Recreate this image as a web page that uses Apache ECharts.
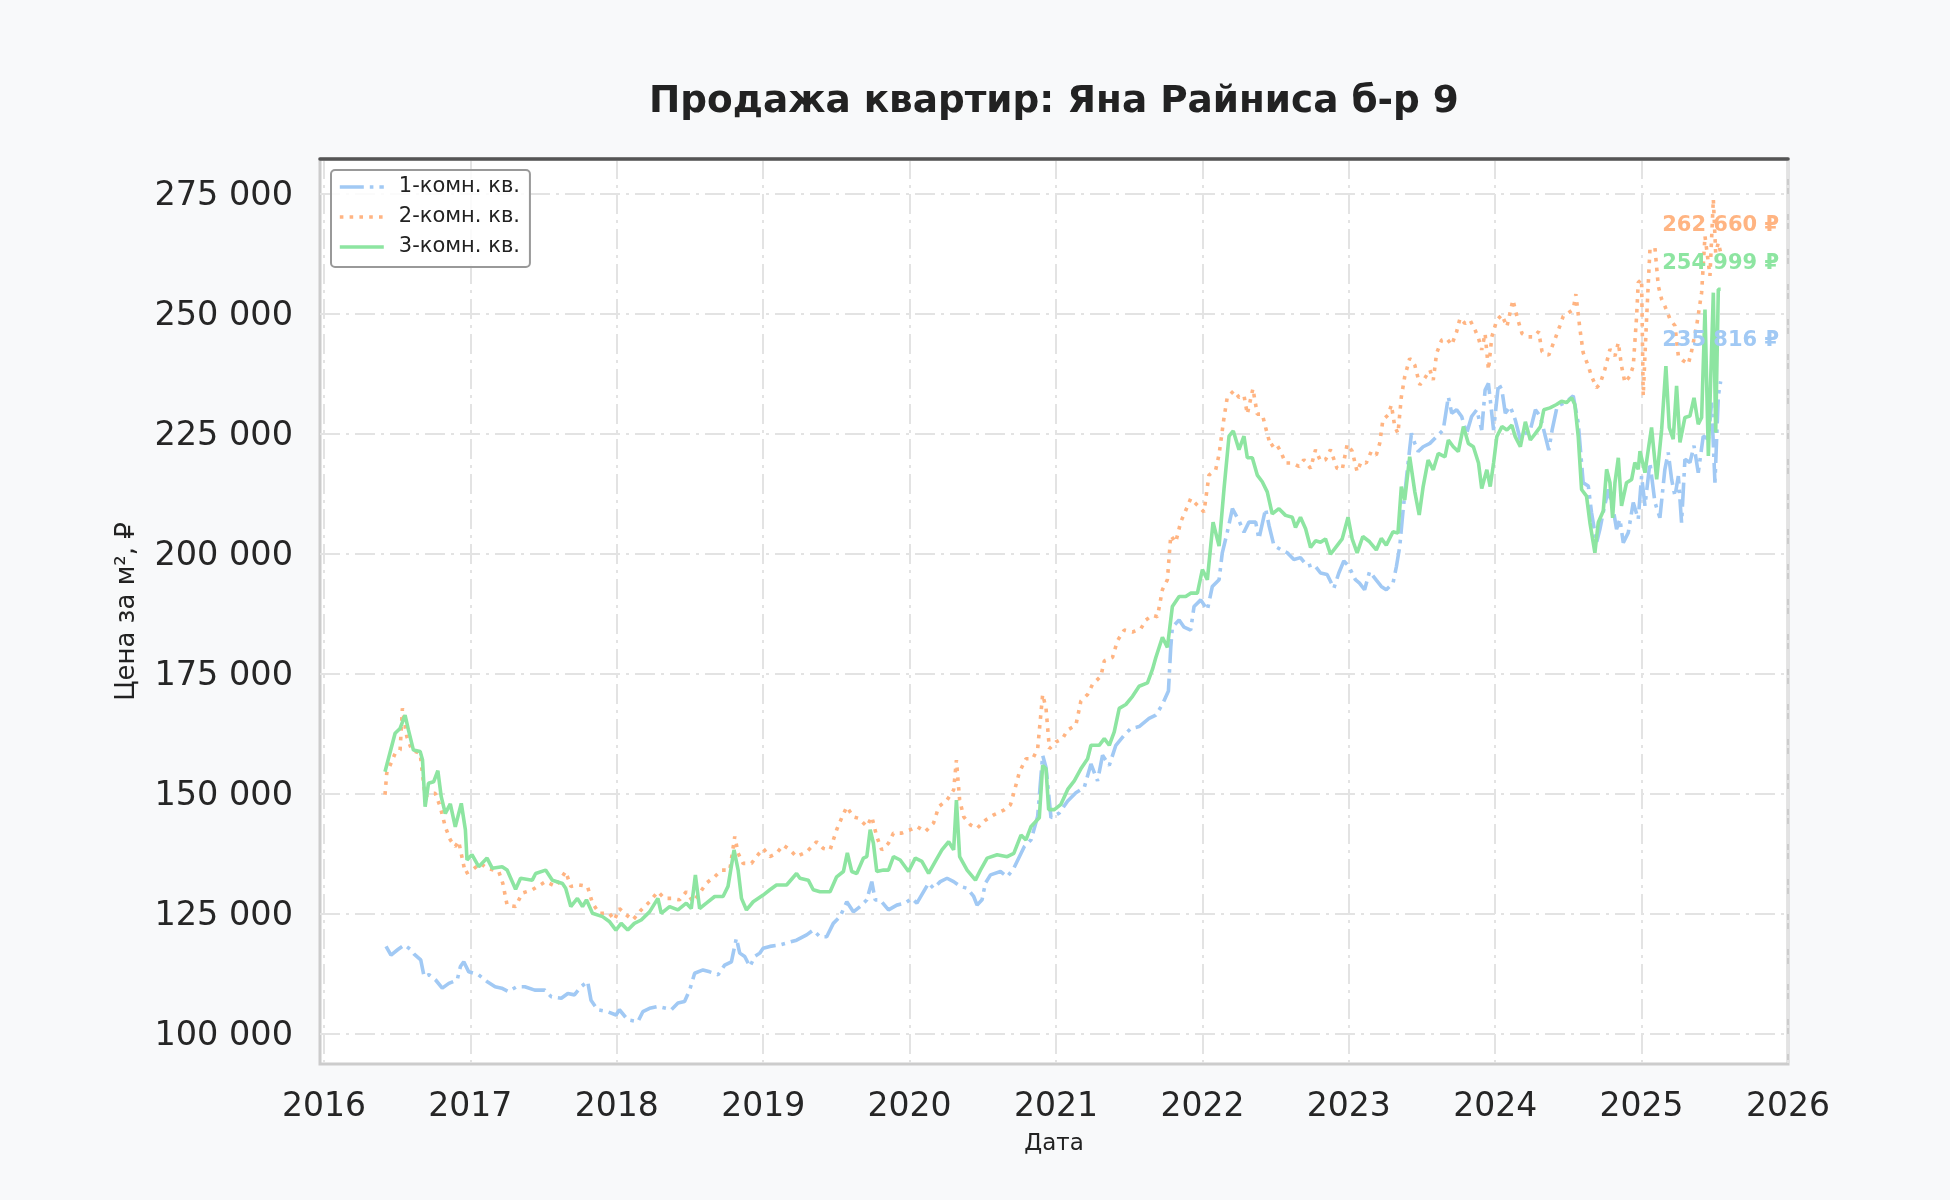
<!DOCTYPE html>
<html>
<head>
<meta charset="utf-8">
<title>Продажа квартир: Яна Райниса б-р 9</title>
<script src="https://cdn.jsdelivr.net/npm/echarts@6/dist/echarts.min.js"></script>
<style>
    html, body { margin: 0; padding: 0; background: #f8f9fa; }
    #chart { width: 1950px; height: 1200px; }
</style>
</head>
<body>
<div id="chart"></div>
<script>
// даты в долях года, цены за м² в рублях
const room1Years = [
    2016.424, 2016.458, 2016.503, 2016.549, 2016.594, 2016.616, 2016.661, 2016.684, 2016.718, 2016.763,
    2016.808, 2016.853, 2016.910, 2016.932, 2016.955, 2016.989, 2017.056, 2017.113, 2017.169, 2017.214,
    2017.260, 2017.316, 2017.372, 2017.440, 2017.508, 2017.553, 2017.621, 2017.666, 2017.711, 2017.756,
    2017.801, 2017.824, 2017.869, 2017.938, 2017.995, 2018.018, 2018.075, 2018.144, 2018.178, 2018.224,
    2018.281, 2018.338, 2018.372, 2018.418, 2018.463, 2018.498, 2018.532, 2018.589, 2018.635, 2018.692,
    2018.737, 2018.783, 2018.817, 2018.840, 2018.874, 2018.909, 2018.943, 2018.977, 2019.000, 2019.046,
    2019.114, 2019.160, 2019.228, 2019.297, 2019.342, 2019.388, 2019.434, 2019.479, 2019.525, 2019.571,
    2019.616, 2019.662, 2019.708, 2019.742, 2019.765, 2019.799, 2019.856, 2019.913, 2019.970, 2020.016,
    2020.050, 2020.130, 2020.164, 2020.210, 2020.256, 2020.301, 2020.347, 2020.393, 2020.438, 2020.461,
    2020.495, 2020.518, 2020.553, 2020.621, 2020.667, 2020.712, 2020.784, 2020.830, 2020.875, 2020.909,
    2020.932, 2020.966, 2021.023, 2021.080, 2021.136, 2021.193, 2021.239, 2021.284, 2021.318, 2021.364,
    2021.409, 2021.466, 2021.511, 2021.568, 2021.636, 2021.682, 2021.727, 2021.768, 2021.784, 2021.795,
    2021.841, 2021.875, 2021.920, 2021.943, 2021.989, 2022.034, 2022.068, 2022.114, 2022.136, 2022.170,
    2022.205, 2022.250, 2022.284, 2022.318, 2022.364, 2022.386, 2022.432, 2022.455, 2022.489, 2022.534,
    2022.580, 2022.625, 2022.670, 2022.716, 2022.761, 2022.807, 2022.852, 2022.898, 2022.932, 2022.966,
    2023.000, 2023.045, 2023.073, 2023.108, 2023.142, 2023.188, 2023.222, 2023.256, 2023.302, 2023.325,
    2023.348, 2023.371, 2023.405, 2023.428, 2023.451, 2023.474, 2023.508, 2023.554, 2023.600, 2023.645,
    2023.680, 2023.703, 2023.737, 2023.771, 2023.805, 2023.839, 2023.874, 2023.908, 2023.931, 2023.954,
    2023.989, 2024.023, 2024.046, 2024.069, 2024.103, 2024.137, 2024.172, 2024.206, 2024.240, 2024.275,
    2024.309, 2024.343, 2024.366, 2024.389, 2024.423, 2024.469, 2024.503, 2024.533, 2024.567, 2024.601,
    2024.636, 2024.658, 2024.692, 2024.715, 2024.738, 2024.772, 2024.806, 2024.829, 2024.852, 2024.875,
    2024.909, 2024.943, 2024.977, 2025.000, 2025.023, 2025.057, 2025.091, 2025.125, 2025.159, 2025.182,
    2025.205, 2025.228, 2025.251, 2025.273, 2025.296, 2025.330, 2025.358, 2025.387, 2025.421, 2025.456,
    2025.478, 2025.501, 2025.524, 2025.540
];
const room1Prices = [
    118100, 116300, 117400, 118400, 117400, 116500, 115300, 111800, 112200, 111100,
    109400, 110400, 111100, 113900, 114900, 112800, 112200, 110800, 109700, 109400,
    108700, 109700, 109700, 109000, 109000, 107600, 107300, 108300, 108000, 109700,
    110800, 106900, 104900, 104500, 103800, 104900, 102800, 102400, 104500, 105200,
    105600, 105200, 104900, 106300, 106600, 109000, 112500, 113200, 112800, 112200,
    114200, 114900, 119800, 116700, 116000, 113900, 116000, 116700, 117700, 118100,
    118400, 118800, 119400, 120500, 121500, 120100, 120100, 122900, 124300, 127400,
    125300, 126400, 127800, 131600, 127800, 127800, 125700, 126700, 127100, 128100,
    127100, 131300, 130200, 131600, 132300, 131600, 130600, 130200, 128500, 126700,
    127800, 131300, 133000, 133700, 132600, 134400, 138900, 140300, 145200, 157900,
    155400, 144900, 145900, 148400, 150100, 151200, 156100, 152600, 157900, 155800,
    160000, 162100, 163500, 163900, 165600, 166300, 168500, 171300, 180400, 184600,
    186100, 184600, 184000, 188900, 190300, 188200, 193100, 194500, 200100, 204400,
    209300, 206800, 204400, 206500, 206500, 203000, 209300, 205800, 201600, 200800,
    200100, 198700, 199100, 197300, 197700, 195900, 195600, 192700, 195900, 198400,
    197300, 194500, 193800, 192400, 196200, 194400, 193100, 192400, 193800, 197200,
    201400, 209000, 218800, 225000, 222900, 221200, 222200, 222900, 224300, 225700,
    232600, 229200, 229900, 228500, 225000, 228500, 229900, 225700, 234000, 235400,
    225700, 235400, 234000, 229200, 230600, 227800, 223600, 225000, 225700, 229900,
    228500, 224300, 221500, 225700, 230600, 231300, 232000, 232800, 227200, 214700,
    214000, 208500, 202200, 205000, 208500, 213300, 209200, 205000, 207100, 202200,
    204300, 210600, 207100, 216100, 209900, 218900, 210600, 207400, 217500, 221000,
    215400, 211900, 216100, 206400, 219600, 218900, 222400, 216800, 224400, 223800,
    231400, 214700, 232800, 235816
];

const room2Years = [
    2016.417, 2016.429, 2016.486, 2016.520, 2016.536, 2016.566, 2016.600, 2016.657, 2016.691, 2016.726,
    2016.760, 2016.794, 2016.829, 2016.863, 2016.897, 2016.920, 2016.966, 2017.011, 2017.069, 2017.114,
    2017.194, 2017.222, 2017.251, 2017.309, 2017.354, 2017.423, 2017.514, 2017.583, 2017.651, 2017.686,
    2017.743, 2017.800, 2017.834, 2017.880, 2017.949, 2017.984, 2018.018, 2018.064, 2018.110, 2018.167,
    2018.224, 2018.281, 2018.326, 2018.372, 2018.429, 2018.475, 2018.521, 2018.566, 2018.612, 2018.669,
    2018.715, 2018.772, 2018.806, 2018.829, 2018.863, 2018.920, 2018.954, 2019.000, 2019.046, 2019.091,
    2019.137, 2019.183, 2019.228, 2019.297, 2019.365, 2019.411, 2019.457, 2019.502, 2019.525, 2019.571,
    2019.616, 2019.651, 2019.708, 2019.742, 2019.776, 2019.810, 2019.856, 2019.890, 2019.947, 2020.005,
    2020.050, 2020.107, 2020.164, 2020.199, 2020.256, 2020.301, 2020.320, 2020.342, 2020.370, 2020.416,
    2020.461, 2020.518, 2020.575, 2020.644, 2020.689, 2020.716, 2020.750, 2020.795, 2020.841, 2020.875,
    2020.909, 2020.932, 2020.955, 2021.000, 2021.045, 2021.080, 2021.136, 2021.170, 2021.216, 2021.250,
    2021.307, 2021.330, 2021.386, 2021.420, 2021.466, 2021.523, 2021.580, 2021.614, 2021.659, 2021.693,
    2021.727, 2021.761, 2021.784, 2021.818, 2021.852, 2021.886, 2021.920, 2021.966, 2022.011, 2022.045,
    2022.091, 2022.114, 2022.148, 2022.170, 2022.216, 2022.250, 2022.284, 2022.307, 2022.345, 2022.375,
    2022.409, 2022.432, 2022.466, 2022.500, 2022.534, 2022.568, 2022.614, 2022.659, 2022.693, 2022.739,
    2022.773, 2022.807, 2022.841, 2022.875, 2022.920, 2022.955, 2022.989, 2023.023, 2023.057, 2023.085,
    2023.119, 2023.153, 2023.188, 2023.211, 2023.233, 2023.268, 2023.291, 2023.314, 2023.336, 2023.359,
    2023.382, 2023.416, 2023.451, 2023.485, 2023.519, 2023.554, 2023.577, 2023.600, 2023.634, 2023.668,
    2023.703, 2023.737, 2023.760, 2023.794, 2023.828, 2023.863, 2023.886, 2023.908, 2023.931, 2023.954,
    2023.977, 2024.011, 2024.046, 2024.080, 2024.121, 2024.149, 2024.183, 2024.217, 2024.263, 2024.297,
    2024.320, 2024.366, 2024.408, 2024.442, 2024.465, 2024.499, 2024.533, 2024.551, 2024.579, 2024.601,
    2024.636, 2024.658, 2024.692, 2024.715, 2024.749, 2024.784, 2024.818, 2024.841, 2024.863, 2024.886,
    2024.920, 2024.943, 2024.966, 2024.977, 2025.000, 2025.011, 2025.034, 2025.057, 2025.091, 2025.114,
    2025.137, 2025.159, 2025.194, 2025.228, 2025.251, 2025.285, 2025.319, 2025.342, 2025.376, 2025.410,
    2025.433, 2025.467, 2025.490, 2025.506, 2025.524, 2025.540
];
const room2Prices = [
    149700, 154200, 158300, 159000, 167700, 161800, 159000, 158300, 149300, 150000,
    150000, 147200, 143000, 140300, 138900, 140000, 133300, 134000, 135400, 134400,
    133700, 131200, 126700, 126400, 129200, 129900, 131600, 130600, 133700, 130600,
    130900, 130600, 127100, 125000, 125000, 123600, 126000, 124700, 123600, 125700,
    127400, 129500, 128100, 128100, 127800, 129500, 127400, 129200, 131300, 132600,
    134000, 134000, 141000, 137500, 135400, 135400, 136800, 138500, 136800, 137500,
    139200, 138200, 136800, 137800, 139900, 138500, 138200, 142400, 144100, 147200,
    145100, 144800, 143100, 145100, 141000, 138200, 139600, 141700, 141700, 142400,
    143100, 142000, 143800, 147200, 148600, 150700, 156900, 148600, 145100, 143400,
    142700, 144400, 145500, 146500, 147600, 150500, 154400, 157200, 157200, 159300,
    170600, 167700, 159300, 160700, 161400, 163200, 164200, 169200, 170600, 172700,
    174400, 177600, 178300, 181800, 184000, 183600, 184300, 186100, 187100, 186800,
    192400, 194500, 203700, 202300, 206500, 208900, 211400, 210000, 208600, 216300,
    217400, 220600, 228300, 232500, 233900, 232500, 232900, 229000, 234300, 229000,
    229000, 226200, 222300, 223000, 221300, 218800, 218800, 218100, 219500, 217700,
    221600, 219200, 219500, 221600, 217700, 217400, 222700, 221300, 217000, 219100,
    218800, 221200, 220500, 222900, 227800, 228800, 230900, 226400, 225000, 232600,
    236800, 240600, 239200, 235100, 236500, 238200, 236100, 241700, 244400, 244800,
    243400, 246200, 249000, 247900, 248600, 246500, 244800, 242400, 245800, 238200,
    245100, 248600, 249700, 247200, 252800, 249300, 245800, 245100, 245100, 246200,
    242000, 241300, 244600, 247400, 249400, 250100, 250800, 254000, 246700, 241800,
    239000, 236900, 234500, 235200, 238300, 242500, 241100, 243900, 239000, 235600,
    236900, 239000, 249400, 256400, 257100, 232800, 248800, 263300, 263700, 255700,
    252900, 251500, 248800, 247400, 241100, 240100, 239400, 242200, 247400, 254300,
    266100, 257800, 273800, 262600, 264700, 262660
];

const room3Years = [
    2016.417, 2016.486, 2016.520, 2016.554, 2016.577, 2016.611, 2016.657, 2016.673, 2016.691, 2016.714,
    2016.749, 2016.778, 2016.801, 2016.829, 2016.863, 2016.897, 2016.938, 2016.966, 2016.977, 2017.011,
    2017.057, 2017.114, 2017.149, 2017.217, 2017.251, 2017.309, 2017.343, 2017.423, 2017.446, 2017.514,
    2017.560, 2017.629, 2017.651, 2017.686, 2017.731, 2017.766, 2017.793, 2017.834, 2017.903, 2017.949,
    2017.994, 2018.030, 2018.075, 2018.120, 2018.167, 2018.224, 2018.281, 2018.304, 2018.361, 2018.418,
    2018.475, 2018.509, 2018.537, 2018.566, 2018.612, 2018.669, 2018.726, 2018.760, 2018.801, 2018.829,
    2018.852, 2018.886, 2018.932, 2019.000, 2019.046, 2019.091, 2019.160, 2019.228, 2019.251, 2019.308,
    2019.342, 2019.388, 2019.457, 2019.502, 2019.548, 2019.575, 2019.605, 2019.639, 2019.685, 2019.708,
    2019.731, 2019.753, 2019.776, 2019.822, 2019.856, 2019.890, 2019.936, 2019.993, 2020.039, 2020.084,
    2020.130, 2020.176, 2020.221, 2020.267, 2020.301, 2020.320, 2020.342, 2020.393, 2020.450, 2020.484,
    2020.530, 2020.598, 2020.667, 2020.712, 2020.761, 2020.795, 2020.830, 2020.886, 2020.909, 2020.932,
    2020.950, 2020.989, 2021.034, 2021.080, 2021.125, 2021.170, 2021.216, 2021.239, 2021.295, 2021.330,
    2021.364, 2021.398, 2021.432, 2021.477, 2021.523, 2021.568, 2021.625, 2021.659, 2021.682, 2021.727,
    2021.761, 2021.795, 2021.841, 2021.886, 2021.920, 2021.966, 2022.000, 2022.034, 2022.073, 2022.114,
    2022.148, 2022.182, 2022.211, 2022.250, 2022.284, 2022.307, 2022.341, 2022.375, 2022.409, 2022.443,
    2022.477, 2022.523, 2022.568, 2022.614, 2022.636, 2022.670, 2022.705, 2022.739, 2022.773, 2022.807,
    2022.841, 2022.875, 2022.920, 2022.955, 2022.995, 2023.023, 2023.057, 2023.096, 2023.142, 2023.188,
    2023.222, 2023.256, 2023.302, 2023.336, 2023.359, 2023.382, 2023.416, 2023.451, 2023.481, 2023.508,
    2023.542, 2023.577, 2023.611, 2023.657, 2023.680, 2023.714, 2023.748, 2023.783, 2023.817, 2023.851,
    2023.886, 2023.908, 2023.943, 2023.966, 2023.989, 2024.011, 2024.046, 2024.080, 2024.114, 2024.137,
    2024.172, 2024.206, 2024.240, 2024.275, 2024.309, 2024.332, 2024.374, 2024.419, 2024.453, 2024.487,
    2024.522, 2024.544, 2024.567, 2024.590, 2024.624, 2024.647, 2024.681, 2024.704, 2024.738, 2024.761,
    2024.784, 2024.802, 2024.818, 2024.841, 2024.863, 2024.897, 2024.932, 2024.954, 2024.977, 2024.989,
    2025.023, 2025.046, 2025.068, 2025.103, 2025.137, 2025.166, 2025.189, 2025.216, 2025.239, 2025.262,
    2025.296, 2025.330, 2025.358, 2025.387, 2025.410, 2025.433, 2025.456, 2025.490, 2025.506, 2025.524,
    2025.540
];
const room3Prices = [
    154500, 162500, 163500, 166300, 163200, 159000, 158700, 157000, 147200, 152100,
    152400, 154700, 149300, 145800, 147800, 143000, 147900, 142400, 136100, 137200,
    134700, 136500, 134400, 134700, 134000, 130000, 132300, 131900, 133300, 134000,
    131900, 131200, 130200, 126400, 128100, 126400, 127800, 125000, 124300, 123300,
    121500, 122900, 121500, 122900, 123600, 125300, 128100, 125000, 126400, 125700,
    127100, 126000, 133000, 126000, 127100, 128500, 128500, 130600, 138200, 134000,
    128100, 125700, 127400, 128800, 129900, 130900, 130900, 133300, 132300, 131900,
    129900, 129500, 129500, 132600, 133700, 137600, 133700, 133300, 136500, 136800,
    142400, 139600, 133700, 134000, 134000, 136800, 136100, 133700, 136500, 135800,
    133300, 135800, 138200, 139900, 138200, 148600, 136800, 134000, 131900, 134000,
    136500, 137200, 136800, 137500, 141300, 140300, 143100, 144900, 155800, 155100,
    146600, 146600, 147700, 150800, 152600, 155100, 157200, 160000, 160000, 161400,
    160000, 162800, 167700, 168500, 170200, 172300, 173000, 175800, 178300, 182500,
    180400, 188900, 191000, 191000, 191700, 191700, 196600, 194500, 206500, 201500,
    213500, 224400, 225500, 221600, 224400, 219900, 219900, 216300, 214900, 212800,
    208200, 209300, 207900, 207500, 205400, 207500, 205100, 201200, 202600, 202300,
    203000, 199800, 201600, 203000, 207500, 203000, 200100, 203500, 202400, 200700,
    203100, 201700, 204500, 204200, 213900, 211100, 220100, 212800, 208000, 213900,
    219400, 217400, 220800, 220100, 223600, 222200, 221200, 226400, 222900, 222200,
    218800, 213500, 217400, 213900, 218800, 224300, 226400, 225700, 226700, 224300,
    222200, 227400, 223600, 225000, 226400, 229900, 230300, 231000, 231700, 231400,
    232400, 231000, 224400, 213300, 211900, 206400, 200100, 206400, 208800, 217500,
    214700, 207400, 214700, 219900, 209900, 214700, 215400, 218900, 217500, 221300,
    216800, 221700, 226200, 215400, 225800, 239000, 226200, 223800, 234900, 223100,
    228300, 228600, 232400, 226900, 228300, 250800, 220300, 254300, 225100, 255000,
    254999
];

const seriesNames = ['1-комн. кв.', '2-комн. кв.', '3-комн. кв.'];
const seriesColors = ['#a1c9f4', '#ffb482', '#8de5a1'];
const yTicks = [100000, 125000, 150000, 175000, 200000, 225000, 250000, 275000];
const xTicks = [2016, 2017, 2018, 2019, 2020, 2021, 2022, 2023, 2024, 2025, 2026];

!function () {
    const FONT = 'DejaVu Sans';
    const fmt = v => String(Math.round(v)).replace(/\B(?=(\d{3})+(?!\d))/g, ' ');
    const chart = echarts.init(document.getElementById('chart'), null, {renderer: 'canvas'});

    const pairs = (xs, ys) => xs.map((x, i) => [x, ys[i]]);
    const lines = [
        {years: room1Years, prices: room1Prices, type: [24, 6, 3.6, 6], dy: -41},
        {years: room2Years, prices: room2Prices, type: [3.6, 6.2], dy: -27},
        {years: room3Years, prices: room3Prices, type: 'solid', dy: -26}
    ];

    const gridLine = {show: true, lineStyle: {color: '#e3e3e3', width: 2, type: [20, 6, 3, 6]}};

    chart.setOption({
        animation: false,
        backgroundColor: '#f8f9fa',
        title: {
            text: 'Продажа квартир: Яна Райниса б-р 9',
            left: 649, top: 84, padding: 0,
            textStyle: {fontFamily: FONT, fontSize: 37.4, fontWeight: 'bold', color: '#222222'}
        },
        legend: {
            data: seriesNames,
            orient: 'vertical',
            left: 331, top: 170,
            padding: [6, 10, 9, 7],
            itemWidth: 44, itemHeight: 14, itemGap: 8,
            backgroundColor: 'rgba(255,255,255,0.85)',
            borderColor: '#999999', borderWidth: 2, borderRadius: 4,
            itemStyle: {opacity: 0},
            lineStyle: {width: 3.6},
            textStyle: {fontFamily: FONT, fontSize: 21, color: '#222222', lineHeight: 22, padding: [0, 0, 0, 10]}
        },
        grid: {
            left: 320, right: 162, top: 159, bottom: 136,
            show: true, backgroundColor: '#ffffff',
            borderColor: '#cccccc', borderWidth: 3
        },
        xAxis: [{
            type: 'value', min: 2015.973, max: 2026,
            name: 'Дата', nameLocation: 'middle', nameGap: 68.5,
            nameTextStyle: {fontFamily: FONT, fontSize: 23, color: '#222222'},
            axisLine: {show: false}, axisTick: {show: false, customValues: xTicks},
            axisLabel: {customValues: xTicks, formatter: v => String(v), margin: 27,
                fontFamily: FONT, fontSize: 33, color: '#262626'},
            splitLine: gridLine
        }, {
            type: 'value', position: 'top', min: 2015.973, max: 2026,
            axisLine: {show: true, lineStyle: {color: '#555555', width: 3.5}},
            axisTick: {show: false}, axisLabel: {show: false}, splitLine: {show: false}
        }],
        yAxis: {
            type: 'value', min: 93600, max: 282150,
            name: 'Цена за м², ₽', nameLocation: 'middle', nameGap: 180,
            nameTextStyle: {fontFamily: FONT, fontSize: 26, color: '#222222'},
            axisLine: {show: false}, axisTick: {show: false, customValues: yTicks},
            axisLabel: {customValues: yTicks, formatter: fmt, margin: 27,
                verticalAlign: 'top', lineHeight: 6,
                fontFamily: FONT, fontSize: 33.5, color: '#262626'},
            splitLine: gridLine
        },
        series: lines.map((s, i) => {
            const last = s.years.length - 1;
            return {
                name: seriesNames[i],
                type: 'line',
                xAxisIndex: 0,
                data: pairs(s.years, s.prices),
                symbol: 'none',
                color: seriesColors[i],
                lineStyle: {color: seriesColors[i], width: 3.6, type: s.type, cap: 'butt'},
                markPoint: {
                    symbol: 'circle', symbolSize: 0, silent: true,
                    data: [{coord: [s.years[last], s.prices[last]], value: s.prices[last]}],
                    label: {
                        show: true, position: 'inside', offset: [0, s.dy],
                        formatter: p => fmt(p.value) + ' ₽',
                        fontFamily: FONT, fontSize: 21, fontWeight: 'bold', color: seriesColors[i]
                    }
                }
            };
        })
    });
}();
</script>
</body>
</html>
